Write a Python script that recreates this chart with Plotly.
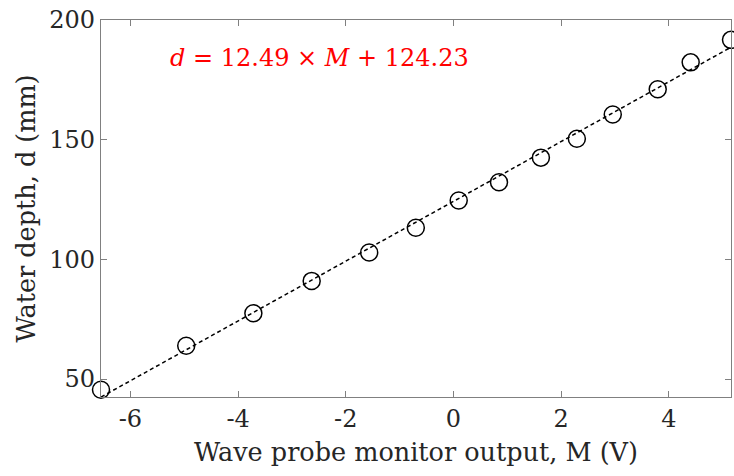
import plotly.graph_objects as go

# Data
probe_output_V = [-6.546, -4.963, -3.716, -2.633, -1.565, -0.699, 0.098, 0.846,
                  1.624, 2.292, 2.959, 3.794, 4.406, 5.155]
water_depth_mm = [45.5, 63.9, 77.5, 91.0, 102.9, 113.2, 124.6, 132.2,
                  142.5, 150.4, 160.5, 171.1, 182.3, 191.7]

fit_slope = 12.49
fit_intercept = 124.23

x_ticks = [-6, -4, -2, 0, 2, 4]
x_tick_labels = ["-6", "-4", "-2", "0", "2", "4"]
y_ticks = [50, 100, 150, 200]
y_tick_labels = ["50", "100", "150", "200"]

x_min, x_max = min(probe_output_V), max(probe_output_V)
fit_x = [x_min, x_max]
fit_y = [fit_slope * v + fit_intercept for v in fit_x]

FONT = "DejaVu Serif"
AXIS_COL = "#808080"
TEXT_COL = "#262626"

fig = go.Figure()
fig.add_trace(go.Scatter(
    x=probe_output_V, y=water_depth_mm, mode="markers",
    marker=dict(symbol="circle-open", size=17, color="black", line=dict(width=1.5, color="black")),
    cliponaxis=False, showlegend=False))
fig.add_trace(go.Scatter(
    x=fit_x, y=fit_y, mode="lines",
    line=dict(color="black", width=1.5, dash="4px,3px"),
    showlegend=False))

fig.add_annotation(
    x=-5.30, y=184.3, xref="x", yref="y",
    text="<i>d</i> = 12.49 × <i>M</i> + 124.23",
    showarrow=False, xanchor="left", yanchor="middle",
    font=dict(family=FONT, size=24, color="#ff0000"))

axis_common = dict(
    showline=True, linecolor=AXIS_COL, linewidth=1.2, mirror="ticks",
    ticks="inside", ticklen=6, tickcolor=AXIS_COL, tickwidth=1,
    showgrid=False, zeroline=False,
    tickfont=dict(family=FONT, size=24, color=TEXT_COL),
)

fig.update_layout(
    width=734, height=476,
    margin=dict(l=101, r=3, t=20, b=79),
    paper_bgcolor="white", plot_bgcolor="white",
    xaxis=dict(range=[x_min, x_max], tickvals=x_ticks, ticktext=x_tick_labels,
               title=dict(text="Wave probe monitor output, M (V)",
                          font=dict(family=FONT, size=25.5, color=TEXT_COL), standoff=11),
               **axis_common),
    yaxis=dict(range=[42.5, 200], tickvals=y_ticks, ticktext=y_tick_labels,
               title=dict(text="Water depth, d (mm)",
                          font=dict(family=FONT, size=25.5, color=TEXT_COL), standoff=6),
               **axis_common),
)

fig.write_html("out.html")
